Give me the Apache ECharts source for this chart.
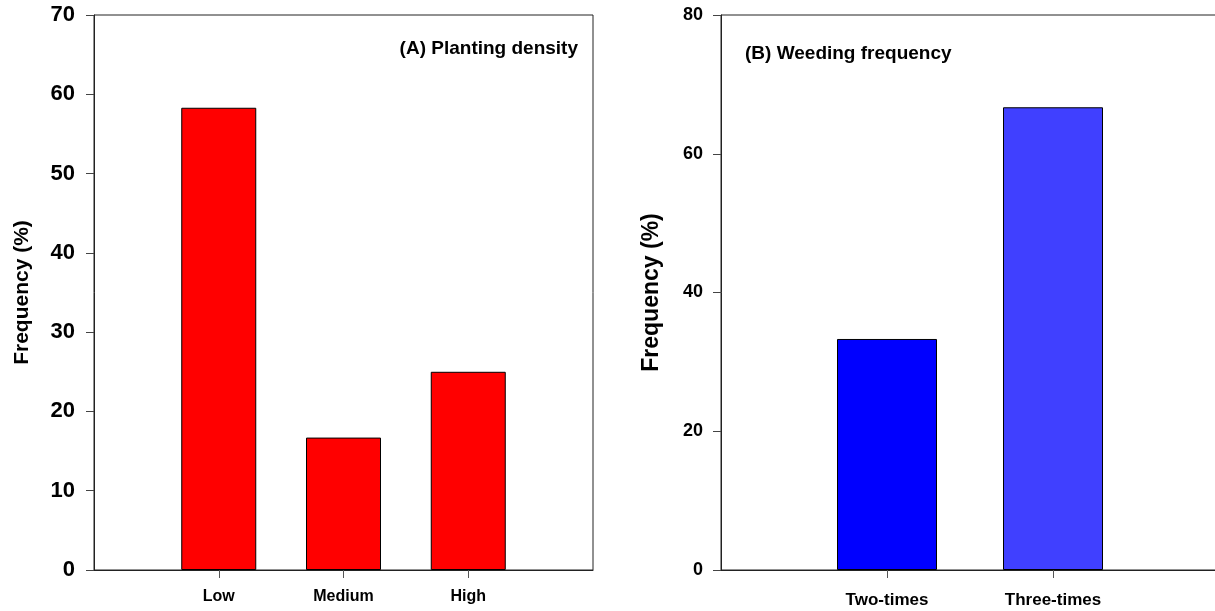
<!DOCTYPE html>
<html>
<head>
<meta charset="utf-8">
<script src="https://cdn.jsdelivr.net/npm/echarts@6/dist/echarts.min.js"></script>
<style>html,body{margin:0;padding:0;background:#fff;overflow:hidden;}#c{width:1225px;height:611px;}</style>
</head>
<body>
<div id="c"></div>
<script>
var densityCats = ['', 'Low', 'Medium', 'High', ''];
var densityVals = ['-', 58.3, 16.7, 25.0, '-'];
var weedCats = ['', 'Two-times', 'Three-times', ''];
var weedVals = ['-', 33.3, 66.7, '-'];
var weedColors = ['#0000FF', '#0000FF', '#4040FF', '#4040FF'];
var leftTicks = [0, 10, 20, 30, 40, 50, 60, 70];
var rightTicks = [0, 20, 40, 60, 80];

var chart = echarts.init(document.getElementById('c'));
var fam = 'Liberation Sans, Arial, sans-serif';
var lineC = '#222';

function tickInt(n){ return function(i){ return i > 0 && i < n - 1; }; }

chart.setOption({
  animation: false,
  grid: [
    {left: 94, width: 499, top: 15, bottom: 41, show: true, borderColor: lineC, borderWidth: 1},
    {left: 721, width: 498, top: 15, bottom: 41, show: true, borderColor: lineC, borderWidth: 1}
  ],
  xAxis: [
    {type: 'category', gridIndex: 0, data: densityCats, boundaryGap: false,
     axisLine: {lineStyle: {color: lineC}},
     axisTick: {show: true, length: 8, interval: tickInt(densityCats.length), lineStyle: {color: '#555'}},
     axisLabel: {interval: 0, margin: 19, fontFamily: fam, fontWeight: 'bold', fontSize: 16, color: '#000'},
     splitLine: {show: false}},
    {type: 'category', gridIndex: 1, data: weedCats, boundaryGap: false,
     axisLine: {lineStyle: {color: lineC}},
     axisTick: {show: true, length: 8, interval: tickInt(weedCats.length), lineStyle: {color: '#555'}},
     axisLabel: {interval: 0, margin: 22, fontFamily: fam, fontWeight: 'bold', fontSize: 17, color: '#000'},
     splitLine: {show: false}}
  ],
  yAxis: [
    {type: 'value', gridIndex: 0, min: leftTicks[0], max: leftTicks[leftTicks.length - 1], interval: 10,
     name: 'Frequency (%)', nameLocation: 'middle', nameGap: 61,
     nameTextStyle: {fontFamily: fam, fontWeight: 'bold', fontSize: 21, color: '#000'},
     axisLine: {show: true, lineStyle: {color: lineC}},
     axisTick: {show: true, length: 8, lineStyle: {color: '#444'}},
     axisLabel: {margin: 19, fontFamily: fam, fontWeight: 'bold', fontSize: 22, color: '#000'},
     splitLine: {show: false}},
    {type: 'value', gridIndex: 1, min: rightTicks[0], max: rightTicks[rightTicks.length - 1], interval: 20,
     name: 'Frequency (%)', nameLocation: 'middle', nameGap: 58,
     nameTextStyle: {fontFamily: fam, fontWeight: 'bold', fontSize: 23, color: '#000'},
     axisLine: {show: true, lineStyle: {color: lineC}},
     axisTick: {show: true, length: 8, lineStyle: {color: '#444'}},
     axisLabel: {margin: 18, fontFamily: fam, fontWeight: 'bold', fontSize: 18, color: '#000'},
     splitLine: {show: false}}
  ],
  series: [
    {type: 'bar', xAxisIndex: 0, yAxisIndex: 0, data: densityVals, barWidth: 75,
     itemStyle: {color: '#FF0000', borderColor: '#000', borderWidth: 1}},
    {type: 'bar', xAxisIndex: 1, yAxisIndex: 1, data: weedVals.map(function(v, i){
        return {value: v, itemStyle: {color: weedColors[i]}};
     }), barWidth: 100,
     itemStyle: {borderColor: '#000', borderWidth: 1}}
  ],
  graphic: [
    {type: 'text', x: 578, y: 49,
     style: {text: '(A) Planting density', fontFamily: fam, fontWeight: 'bold', fontSize: 19, fill: '#000',
             textAlign: 'right', textVerticalAlign: 'middle'}},
    {type: 'text', x: 745, y: 54,
     style: {text: '(B) Weeding frequency', fontFamily: fam, fontWeight: 'bold', fontSize: 19, fill: '#000',
             textAlign: 'left', textVerticalAlign: 'middle'}}
  ]
});
</script>
</body>
</html>
